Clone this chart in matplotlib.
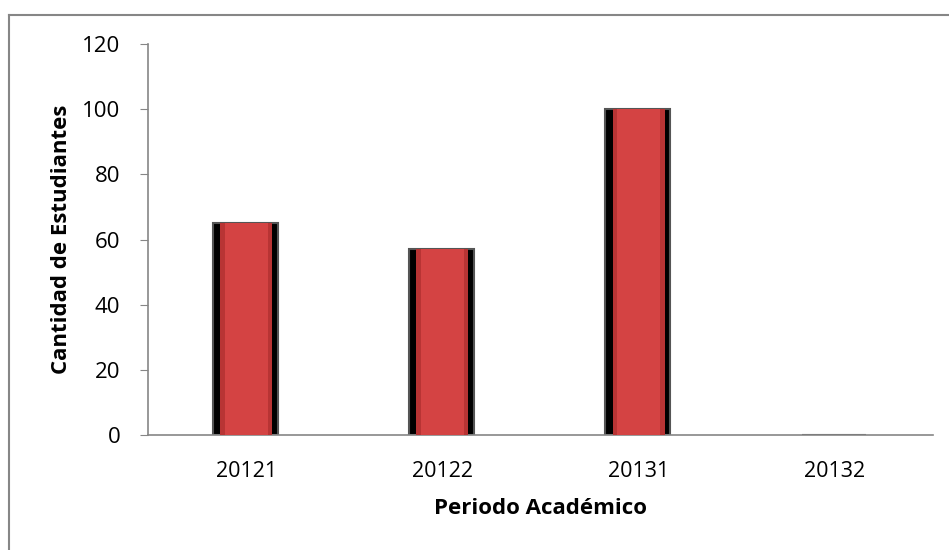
import matplotlib
matplotlib.use("Agg")
import matplotlib.pyplot as plt
from matplotlib.lines import Line2D
import numpy as np

categories = ["20121", "20122", "20131", "20132"]
values = [65, 57, 100, 0]
yticks = [0, 20, 40, 60, 80, 100, 120]

plt.rcParams['font.family'] = ['Open Sans', 'DejaVu Sans']

W, H = 949, 550
fig = plt.figure(figsize=(W / 100, H / 100), dpi=100)
ax = fig.add_axes([148 / W, 1 - 435 / H, (933 - 148) / W, (435 - 44) / H])

x = np.arange(len(categories))
# dark shadow bar
ax.bar(x - 0.005, values, width=0.33, color='black', edgecolor='#555555', linewidth=1.5, zorder=2)
# main red bar
ax.bar(x + 0.0, values, width=0.265, color='#b83434', zorder=3)
# lighter inner face
ax.bar(x + 0.0, values, width=0.22, color='#d44343', zorder=4)

ax.set_xlim(-0.5, len(categories) - 0.5)
ax.set_ylim(0, 120)
ax.set_yticks(yticks)
ax.set_xticks(x)
ax.set_xticklabels(categories, fontsize=15.5)
ax.tick_params(axis='y', labelsize=16, length=6, color='#868686', direction='out', pad=14)
ax.tick_params(axis='x', length=0, pad=19)

for s in ['top', 'right']:
    ax.spines[s].set_visible(False)
for s in ['left', 'bottom']:
    ax.spines[s].set_color('#868686')
    ax.spines[s].set_linewidth(1.2)

ax.set_xlabel('Periodo Académico', fontsize=16, fontweight='bold')
ax.set_ylabel('Cantidad de Estudiantes', fontsize=16, fontweight='bold')
ax.xaxis.set_label_coords(0.5, -(509 - 435) / (435 - 44), transform=ax.transAxes)
ax.xaxis.label.set_va('center')
ax.yaxis.set_label_coords(-(148 - 62) / (933 - 148), 0.5, transform=ax.transAxes)
ax.yaxis.label.set_va('center')

# outer chart-area border (top and left visible)
fig.add_artist(Line2D([9 / W, 9 / W], [0, 1 - 15 / H], transform=fig.transFigure, color='#868686', lw=1.5))
fig.add_artist(Line2D([9 / W, 1], [1 - 15 / H, 1 - 15 / H], transform=fig.transFigure, color='#868686', lw=1.5))

fig.savefig('out.png', dpi=100)
